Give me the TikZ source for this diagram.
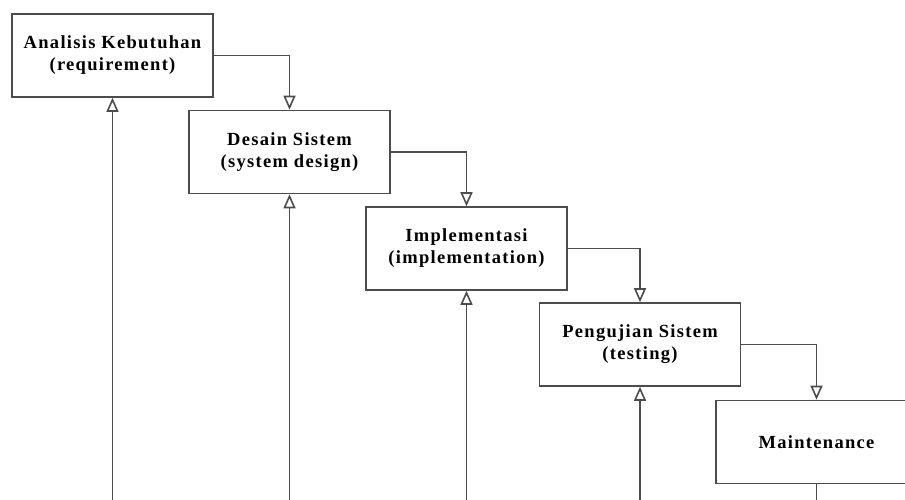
\documentclass[tikz,border=0pt]{standalone}
\usepackage{fontspec}
\setmainfont{Liberation Serif}
\usetikzlibrary{positioning,arrows.meta}

\begin{document}
\begin{tikzpicture}[
                x=1pt, y=-1pt,
                tahap/.style={rectangle,draw=black!70,line width=1.6pt,fill=white,minimum width=201pt,minimum height=83pt,align=center,
                  font=\bfseries\fontsize{18.5}{22}\selectfont\addfontfeatures{LetterSpace=7}},
                alur/.style={draw=black!70,line width=1.6pt,-{Triangle[open,length=14pt,width=12pt]}}
            ]
                \useasboundingbox (0,0) rectangle (905,500);
                \coordinate (dasar) at (0,500);
                \node[tahap] (analisis) at (112.5,55.5) {Analisis Kebutuhan\\(requirement)};
                \node[tahap] (desain) at (289.5,152) {Desain Sistem\\(system design)};
                \node[tahap] (implementasi) at (466.5,248.5) {Implementasi\\(implementation)};
                \node[tahap] (pengujian) at (640,344.5) {Pengujian Sistem\\(testing)};
                \node[tahap] (maintenance) at (816.5,442) {Maintenance};
                % alur turun
                \draw[alur] (analisis.east) -| (desain.north);
                \draw[alur] (desain.east) -| (implementasi.north);
                \draw[alur] (implementasi.east) -| (pengujian.north);
                \draw[alur] (pengujian.east) -| (maintenance.north);
                % umpan balik dari bawah
                \foreach \n in {analisis,desain,implementasi,pengujian}
                    {
                    \coordinate (\n-bawah) at (\n.south |- dasar);
                    \draw[alur] (\n-bawah) -- (\n.south);
                }
                \coordinate (maintenance-bawah) at (maintenance.south |- dasar);
                \draw[draw=black!70,line width=1.6pt] (maintenance.south) -- (maintenance-bawah);
            \end{tikzpicture}
\end{document}
